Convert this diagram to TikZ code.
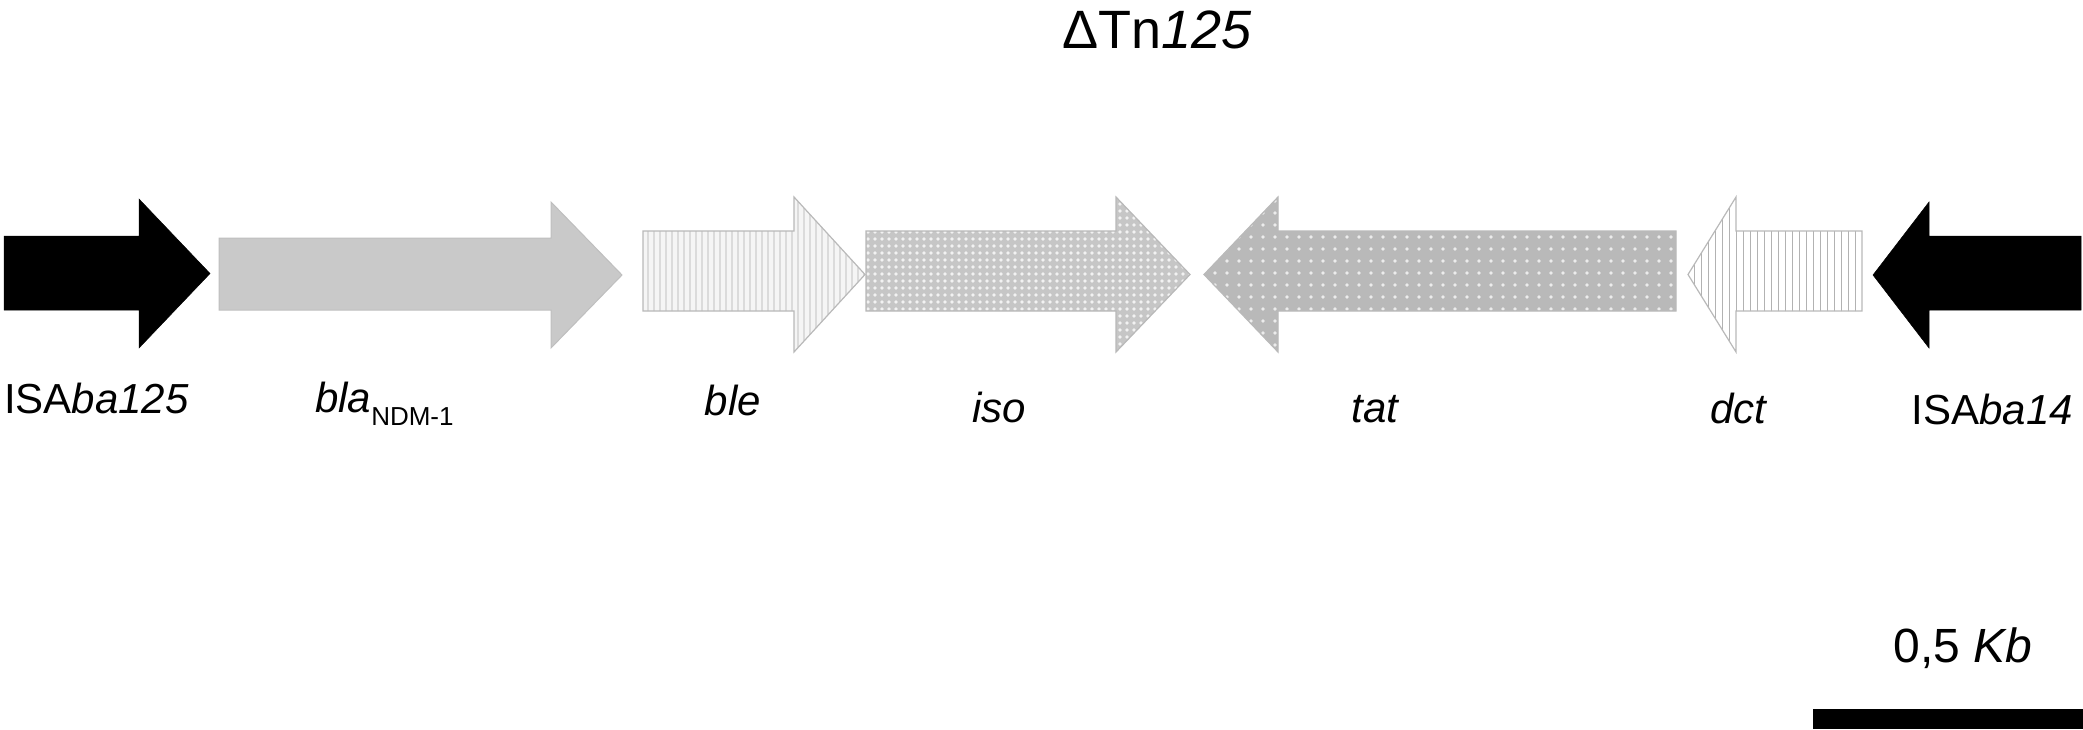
\documentclass[tikz,border=0pt]{standalone}
\usepackage{fontspec}
\setmainfont{Liberation Sans}
\usetikzlibrary{patterns.meta}
\tikzset{
  blackgene/.style={fill=black,draw=black,line width=0.5pt},
  outl/.style={draw=gray!55,line width=1.2pt},
  blagene/.style={fill=gray!42,draw=gray!50,line width=1pt},
  blegene/.style={outl,preaction={fill=gray!8},pattern={Lines[angle=90,distance=6pt,line width=1.5pt]},pattern color=gray!28},
  isogene/.style={outl,preaction={fill=gray!45},pattern={Dots[distance=7pt,radius=1.8pt]},pattern color=white!90!gray},
  tatgene/.style={outl,preaction={fill=gray!55},pattern={Dots[distance=12pt,radius=1.8pt,xshift=3pt]},pattern color=white!85!gray},
  dctgene/.style={outl,preaction={fill=white},pattern={Lines[angle=90,distance=7pt,line width=1pt]},pattern color=gray!60},
  lab/.style={font=\fontsize{42}{50}\selectfont\itshape,inner sep=0pt},
}
% right arrow: x0, xbase, xtip, bodytop, bodybot, headtop, headbot
\newcommand\generight[8]{\path[#1] (#2,#5) -- (#3,#5) -- (#3,#7) -- (#4,{(#7+#8)/2}) -- (#3,#8) -- (#3,#6) -- (#2,#6) -- cycle;}
% left arrow: xtip, xbase, x1, bodytop, bodybot, headtop, headbot
\newcommand\geneleft[8]{\path[#1] (#4,#5) -- (#3,#5) -- (#3,#7) -- (#2,{(#7+#8)/2}) -- (#3,#8) -- (#3,#6) -- (#4,#6) -- cycle;}
\begin{document}
\begin{tikzpicture}[x=1pt,y=-1pt]
\useasboundingbox (0,0) rectangle (2083,729);
% genes
\generight{blackgene}{4}{139}{210}{236}{310}{199}{348}
\generight{blagene}{219}{551}{622}{238}{310}{202}{348}
\generight{blegene}{643}{794}{865}{231}{311}{197}{352}
\generight{isogene}{866}{1116}{1190}{231}{311}{197}{352}
\geneleft{tatgene}{1204}{1278}{1676}{231}{311}{197}{352}
\geneleft{dctgene}{1688}{1736}{1862}{231}{311}{197}{352}
\geneleft{blackgene}{1873}{1929}{2081}{236}{310}{202}{348}
% title
\node[anchor=base,inner sep=0pt,font=\fontsize{54}{60}\selectfont] (title) at (1157,48) {ΔTn\textit{125}};
% labels
\node[lab,anchor=base west] (l1) at (4,413) {\upshape ISA\itshape ba125};
\node[lab,anchor=base west] (l2) at (315,412) {bla\raisebox{-13pt}{\fontsize{26}{30}\selectfont\upshape NDM-1}};
\node[lab,anchor=base] (l3) at (733,415) {ble};
\node[lab,anchor=base] (l4) at (999,422) {iso};
\node[lab,anchor=base] (l5) at (1375,422) {tat};
\node[lab,anchor=base] (l6) at (1738,423) {dct};
\node[lab,anchor=base east] (l7) at (2073,424) {\upshape ISA\itshape ba14};
% scale bar
\node[anchor=base,inner sep=0pt,font=\fontsize{48}{56}\selectfont] (sc) at (1963,662) {0,5 \textit{Kb}};
\fill[black] (1813,709) rectangle (2083,729);
\end{tikzpicture}
\end{document}
